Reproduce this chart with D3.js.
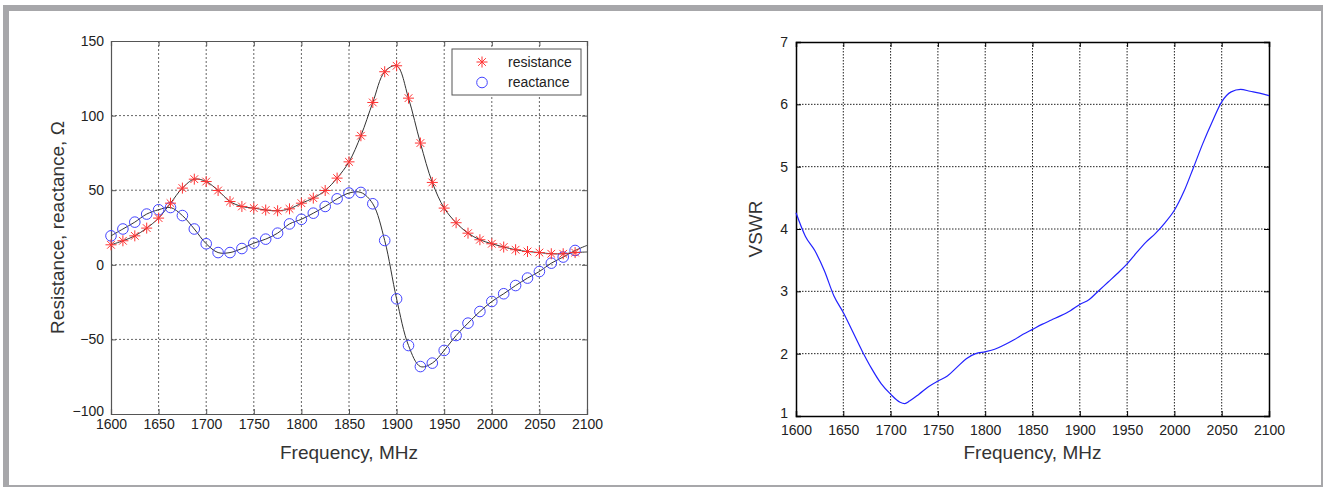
<!DOCTYPE html>
<html><head><meta charset="utf-8">
<script src="https://cdn.jsdelivr.net/npm/d3@7"></script>
<style>
body{margin:0;background:#fff;}
svg{display:block;font-family:"Liberation Sans",Arial,sans-serif;}
</style></head>
<body><svg id="c" width="1326" height="488"></svg>
<script>
// ---------- data ----------
const markerFreq = d3.range(1600, 2100, 12.5); // 40 marker frequencies
const lineFreq = d3.range(1600, 2100.01, 12.5); // 41 points incl. 2100
const resistance = [13.4,16.1,19.4,24.6,31.3,41.3,51.4,57.4,55.8,49.8,42.4,39.1,38,36.7,36.2,37.5,41.3,44.7,49.8,58.1,69,86.5,108.8,129.4,133.4,111.7,81.6,55.2,38,28.2,21.2,16.8,14.1,11.9,10.1,8.9,8.2,7.4,7.4,8.2,8.6];
const reactance = [19.4,24,28.6,34,36.9,38.4,33,24,14.1,8.2,8.2,10.9,14.5,17.2,21.2,27.4,30.5,34.6,39.1,44.2,48.1,48.5,40.9,16.3,-22.8,-54.1,-68.2,-65.9,-57.4,-47.4,-39.1,-31.3,-24.6,-19.4,-13.9,-8.9,-4.5,1.1,5.2,9.6,13];
const leftYTicks = [-100,-50,0,50,100,150];
const xTicks = [1600,1650,1700,1750,1800,1850,1900,1950,2000,2050,2100];
const vswrFreq = [1600,1610,1620,1630,1640,1650,1660,1670,1680,1690,1700,1710,1715,1720,1730,1740,1750,1760,1770,1780,1790,1800,1810,1820,1830,1840,1850,1860,1870,1880,1890,1900,1910,1920,1930,1940,1950,1960,1970,1980,1990,2000,2010,2020,2030,2040,2050,2060,2070,2080,2090,2100];
const vswr = [4.26,3.88,3.65,3.33,2.93,2.66,2.35,2.04,1.76,1.52,1.35,1.22,1.2,1.24,1.35,1.47,1.56,1.64,1.78,1.92,2.0,2.03,2.07,2.14,2.22,2.31,2.39,2.47,2.54,2.61,2.69,2.79,2.87,3.01,3.15,3.29,3.44,3.62,3.79,3.93,4.1,4.3,4.6,4.98,5.37,5.72,6.04,6.2,6.24,6.21,6.18,6.14];
const rightYTicks = [1,2,3,4,5,6,7];
const legendItems = ["resistance","reactance"];

const svg = d3.select("#c");
// frame
svg.append("rect").attr("x",3).attr("y",5).attr("width",1320).attr("height",482).attr("fill","#a7a7aa");
svg.append("rect").attr("x",9).attr("y",11).attr("width",1312).attr("height",474).attr("fill","#fff");

function panel(cfg){
  const g = svg.append("g");
  const x = d3.scaleLinear().domain([1600,2100]).range([cfg.x0,cfg.x1]);
  const y = d3.scaleLinear().domain(cfg.ydom).range([cfg.y1,cfg.y0]);
  // grid
  g.append("g").selectAll("line").data(xTicks.slice(1,-1)).join("line")
    .attr("x1",d=>x(d)).attr("x2",d=>x(d)).attr("y1",cfg.y0).attr("y2",cfg.y1)
    .attr("stroke",cfg.gridColor).attr("stroke-width",1).attr("stroke-dasharray",cfg.dash);
  g.append("g").selectAll("line").data(cfg.yticks.slice(1,-1)).join("line")
    .attr("y1",d=>y(d)).attr("y2",d=>y(d)).attr("x1",cfg.x0).attr("x2",cfg.x1)
    .attr("stroke",cfg.gridColor).attr("stroke-width",1).attr("stroke-dasharray",cfg.dash);
  // axes via d3
  const ax = g.append("g").attr("transform",`translate(0,${cfg.y1})`)
    .call(d3.axisBottom(x).tickValues(xTicks).tickSize(-5).tickPadding(cfg.xpad).tickFormat(d3.format("d")));
  const ay = g.append("g").attr("transform",`translate(${cfg.x0},0)`)
    .call(d3.axisLeft(y).tickValues(cfg.yticks).tickSize(-5).tickPadding(cfg.ypad).tickFormat(d3.format("d")));
  const axt = g.append("g").attr("transform",`translate(0,${cfg.y0})`)
    .call(d3.axisTop(x).tickValues(xTicks).tickSize(-5).tickFormat(""));
  const ayr = g.append("g").attr("transform",`translate(${cfg.x1},0)`)
    .call(d3.axisRight(y).tickValues(cfg.yticks).tickSize(-5).tickFormat(""));
  [ax,ay,axt,ayr].forEach(a=>{
    a.select(".domain").attr("stroke",cfg.axisColor).attr("stroke-width",cfg.axisW);
    a.selectAll(".tick line").attr("stroke",cfg.axisColor);
    a.selectAll("text").attr("fill","#222").style("font-size","14px").style("font-family","'Liberation Sans',Arial,sans-serif");
  });
  ay.selectAll("text").attr("dy","0.32em");
  ay.selectAll(".tick").filter(d=>d===cfg.ydom[0]).select("text").attr("dy","0.1em");
  // labels
  g.append("text").attr("x",(cfg.x0+cfg.x1)/2).attr("y",459).attr("text-anchor","middle")
    .attr("fill","#333").style("font-size","19px").text("Frequency, MHz");
  g.append("text").attr("transform",`translate(${cfg.ylabX},${(cfg.y0+cfg.y1)/2}) rotate(-90)`)
    .attr("text-anchor","middle").attr("fill","#333").style("font-size","19px").text(cfg.ylabel);
  return {g,x,y};
}

// ---------- left panel ----------
const L = panel({x0:111,x1:587,y0:41,y1:414,ydom:[-100,150],yticks:leftYTicks,gridColor:"#666",dash:"2,2",axisColor:"#555",axisW:1.2,xpad:5,ypad:7,ylabX:64,ylabel:"Resistance, reactance, Ω"});
const lineGen = (vals)=>d3.line().x((d,i)=>L.x(lineFreq[i])).y(d=>L.y(d)).curve(d3.curveCatmullRom.alpha(0.5))(vals);
L.g.append("path").attr("d",lineGen(resistance)).attr("fill","none").attr("stroke","#333").attr("stroke-width",1);
L.g.append("path").attr("d",lineGen(reactance)).attr("fill","none").attr("stroke","#333").attr("stroke-width",1);

function star(sel,cx,cy){
  const r=5.5, gg=sel.append("g").attr("transform",`translate(${cx},${cy})`).attr("stroke","#f33").attr("stroke-width",1);
  gg.append("line").attr("x1",-r).attr("x2",r).attr("y1",0).attr("y2",0);
  gg.append("line").attr("x1",0).attr("x2",0).attr("y1",-r).attr("y2",r);
  gg.append("line").attr("x1",-r*0.7).attr("x2",r*0.7).attr("y1",-r*0.7).attr("y2",r*0.7);
  gg.append("line").attr("x1",-r*0.7).attr("x2",r*0.7).attr("y1",r*0.7).attr("y2",-r*0.7);
}
const mk = L.g.append("g");
markerFreq.forEach((f,i)=>{
  mk.append("circle").attr("cx",L.x(f)).attr("cy",L.y(reactance[i])).attr("r",5.3)
    .attr("fill","none").attr("stroke","#44f").attr("stroke-width",1);
});
markerFreq.forEach((f,i)=>star(mk,L.x(f),L.y(resistance[i])));

// legend
const lg = L.g.append("g");
lg.append("rect").attr("x",452).attr("y",49).attr("width",129).attr("height",46).attr("fill","#fff").attr("stroke","#555");
legendItems.forEach((t,i)=>{
  const yy = 62 + i*20.5;
  if(i===0) star(lg,482,yy); else lg.append("circle").attr("cx",482).attr("cy",yy).attr("r",5.3).attr("fill","none").attr("stroke","#44f");
  lg.append("text").attr("x",508).attr("y",yy).attr("dy","0.35em").attr("fill","#222").style("font-size","14px").text(t);
});

// ---------- right panel ----------
const R = panel({x0:796,x1:1269,y0:42,y1:416,ydom:[1,7],yticks:rightYTicks,gridColor:"#222",dash:"1.5,1.5",axisColor:"#000",axisW:1.5,xpad:9,ypad:8,ylabX:762,ylabel:"VSWR"});
R.g.append("path").datum(vswr)
  .attr("d",d3.line().x((d,i)=>R.x(vswrFreq[i])).y(d=>R.y(d)).curve(d3.curveMonotoneX))
  .attr("fill","none").attr("stroke","#22f").attr("stroke-width",1.2);
</script></body></html>
